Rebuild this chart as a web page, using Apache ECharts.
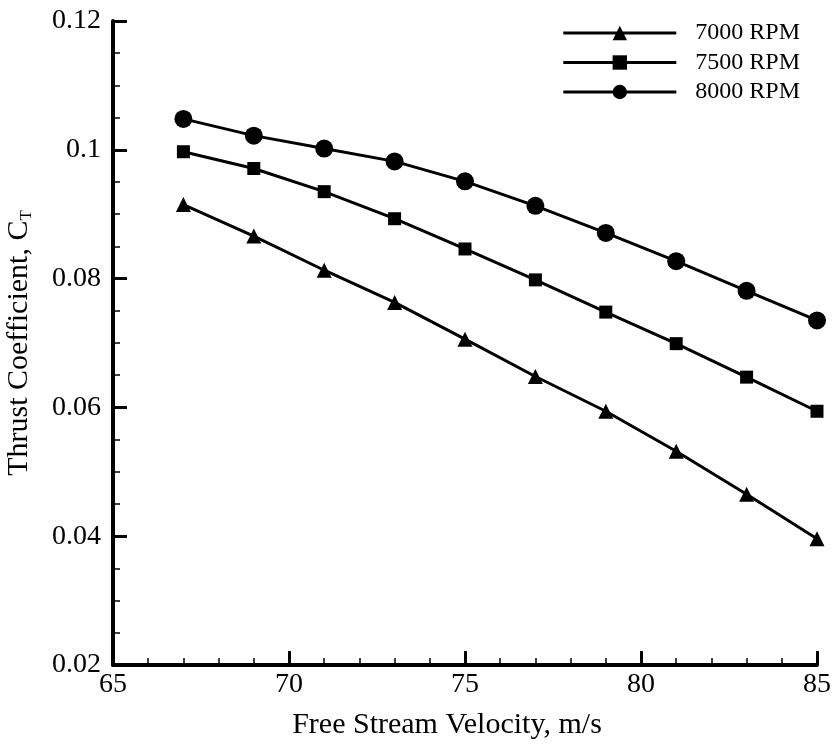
<!DOCTYPE html>
<html>
<head>
<meta charset="utf-8">
<script src="https://cdn.jsdelivr.net/npm/echarts@6/dist/echarts.min.js"></script>
<style>
  html, body { margin: 0; padding: 0; background: #fff; }
  #chart { width: 832px; height: 746px; }
</style>
</head>
<body>
<div id="chart"></div>
<script>
// Free stream velocity (m/s)
const velocity = [67, 69, 71, 73, 75, 77, 79, 81, 83, 85];

// Thrust coefficient C_T at each rotor speed
const ct7000 = [0.0915, 0.0866, 0.0813, 0.0763, 0.0706, 0.0648, 0.0594, 0.0532, 0.0465, 0.0396];
const ct7500 = [0.0997, 0.0971, 0.0935, 0.0893, 0.0846, 0.0798, 0.0748, 0.0699, 0.0647, 0.0594];
const ct8000 = [0.1048, 0.1022, 0.1002, 0.0982, 0.0951, 0.0913, 0.0871, 0.0827, 0.0781, 0.0735];

const seriesNames = ['7000 RPM', '7500 RPM', '8000 RPM'];

const font = '"Liberation Serif", "Times New Roman", serif';

function pairs(ys) {
  return velocity.map((v, i) => [v, ys[i]]);
}

function lineSeries(name, ys, symbol, size) {
  return {
    name: name,
    type: 'line',
    data: pairs(ys),
    symbol: symbol,
    symbolSize: size,
    showSymbol: true,
    lineStyle: { color: '#000', width: 3 },
    itemStyle: { color: '#000', borderWidth: 0 },
    emphasis: { disabled: true },
    animation: false
  };
}

const chart = echarts.init(document.getElementById('chart'), null, { renderer: 'canvas' });

chart.setOption({
  backgroundColor: '#fff',
  animation: false,
  grid: { left: 113, right: 15, top: 21, bottom: 81, containLabel: false, outerBoundsMode: 'none' },
  legend: {
    orient: 'vertical',
    right: 27,
    top: 16,
    itemWidth: 113,
    itemHeight: 18,
    itemGap: 5.5,
    lineStyle: { width: 3, color: '#000' },
    textStyle: { fontFamily: font, fontSize: 24, lineHeight: 18, color: '#000', padding: [0, 0, 0, 14] },
    data: seriesNames
  },
  xAxis: {
    type: 'value',
    min: 65,
    max: 85,
    interval: 5,
    name: 'Free Stream Velocity, m/s',
    nameLocation: 'middle',
    nameGap: 45,
    nameTextStyle: { fontFamily: font, fontSize: 30, color: '#000', padding: [0, 36, 0, 0] },
    axisLine: { show: true, lineStyle: { color: '#000', width: 4 } },
    axisTick: { show: true, inside: true, length: 14, lineStyle: { color: '#000', width: 3 } },
    minorTick: { show: true, splitNumber: 5, length: 7, lineStyle: { color: '#000', width: 1.5 } },
    axisLabel: { fontFamily: font, fontSize: 28, color: '#000', margin: 6 },
    splitLine: { show: false }
  },
  yAxis: {
    type: 'value',
    min: 0.02,
    max: 0.12,
    interval: 0.02,
    name: 'Thrust Coefficient, C{sub|T}',
    nameLocation: 'middle',
    nameRotate: 90,
    nameGap: 78,
    nameTextStyle: {
      fontFamily: font, fontSize: 30, color: '#000',
      rich: { sub: { fontFamily: font, fontSize: 17, color: '#000', verticalAlign: 'bottom', padding: [14, 0, 0, 0] } }
    },
    axisLine: { show: true, lineStyle: { color: '#000', width: 4 } },
    axisTick: { show: true, inside: true, length: 14, lineStyle: { color: '#000', width: 3 } },
    minorTick: { show: true, splitNumber: 4, length: 7, lineStyle: { color: '#000', width: 1.5 } },
    axisLabel: {
      fontFamily: font, fontSize: 28, color: '#000', margin: 12,
      formatter: v => String(parseFloat(v.toFixed(3)))
    },
    splitLine: { show: false }
  },
  series: [
    lineSeries(seriesNames[0], ct7000, 'triangle', 15),
    lineSeries(seriesNames[1], ct7500, 'rect', 13),
    lineSeries(seriesNames[2], ct8000, 'circle', 18)
  ]
});
</script>
</body>
</html>
